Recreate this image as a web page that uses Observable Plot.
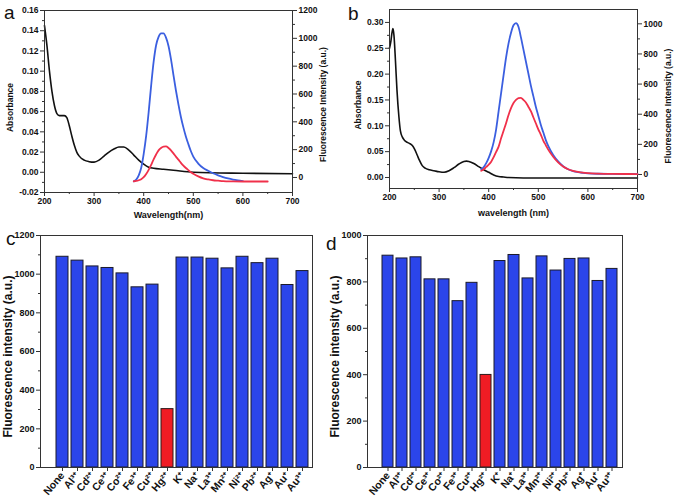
<!DOCTYPE html>
<html><head><meta charset="utf-8">
<script src="https://cdn.jsdelivr.net/npm/d3@7"></script>
<script src="https://cdn.jsdelivr.net/npm/@observablehq/plot@0.6"></script>
<style>
body{margin:0;background:#fff}
#root{position:relative;width:676px;height:503px;overflow:hidden;background:#fff;font-family:'Liberation Sans',Arial,sans-serif}
.panel{position:absolute}
.letter{position:absolute;font-size:19px;line-height:1;color:#111;font-family:'Liberation Sans',Arial,sans-serif}
</style></head><body><div id="root"></div>
<script>
// ---------- Panel a data ----------
const waveAbsA = [200,205,210,215,220,225,230,240,245,250,255,260,265,270,280,290,300,310,320,330,340,350,360,370,380,390,400,410,420,440,460,500,600,700];
const absA = [0.145,0.125,0.100,0.080,0.066,0.058,0.056,0.056,0.054,0.046,0.036,0.027,0.020,0.016,0.012,0.0105,0.010,0.012,0.016,0.020,0.023,0.025,0.025,0.022,0.017,0.012,0.008,0.005,0.004,0.003,0.002,0.000,-0.001,-0.0015];
const waveBlueA = [380,385,390,395,400,405,410,415,420,425,430,435,440,445,450,455,460,465,470,475,480,485,490,495,500,510,520,530,540,550,560,570,580,590,600];
const blueA = [-28,-15,15,70,170,300,470,660,830,950,1010,1035,1035,1005,945,850,735,625,525,435,360,295,240,190,150,100,68,48,30,15,3,-7,-15,-21,-26];
const waveRedA = [380,385,390,395,400,405,410,415,420,425,430,435,440,445,450,455,460,465,470,475,480,485,490,495,500,510,520,530,540,550,560,580,600,620,650];
const redA = [-27,-25,-20,-12,2,25,55,90,130,165,195,212,222,223,212,195,173,150,128,105,85,68,53,38,27,8,-6,-14,-20,-23,-26,-28,-29,-29,-29];
const absTicksA = [-0.02,0,0.02,0.04,0.06,0.08,0.10,0.12,0.14,0.16];
const absMinorA = [-0.01,0.01,0.03,0.05,0.07,0.09,0.11,0.13,0.15];
const flTicksA = [0,200,400,600,800,1000,1200];
const flMinorA = [100,300,500,700,900,1100];

// ---------- Panel b data ----------
const waveAbsB = [200,203,205,207,209,212,215,219,222,226,230,236,240,246,250,256,260,266,272,280,290,300,310,320,330,340,350,355,360,370,380,390,400,410,420,430,440,500,600,700];
const absB = [0.25,0.265,0.28,0.288,0.275,0.226,0.17,0.117,0.09,0.078,0.072,0.068,0.066,0.062,0.056,0.043,0.034,0.023,0.018,0.015,0.013,0.011,0.010,0.013,0.019,0.026,0.031,0.0316,0.031,0.027,0.021,0.015,0.010,0.005,0.002,0.001,0.000,-0.001,-0.001,-0.001];
const waveFlB = [385,390,395,400,405,410,415,420,425,430,435,440,445,450,455,460,465,470,475,480,485,490,495,500,505,510,515,520,530,540,550,560,570,580,590,600,620,650,700];
const blueB = [35,50,75,110,155,215,300,420,540,660,775,870,940,990,1004,980,910,830,750,670,590,520,450,390,330,280,230,190,130,87,55,35,22,15,11,8,5,4,3];
const redB = [25,35,50,65,85,115,150,185,240,290,340,395,440,475,495,507,509,495,478,450,420,380,340,300,265,225,195,165,118,80,53,35,24,17,12,9,6,4,3];
const absTicksB = [0,0.05,0.10,0.15,0.20,0.25,0.30];
const absMinorB = [0.025,0.075,0.125,0.175,0.225,0.275];
const flTicksB = [0,200,400,600,800,1000];
const flMinorB = [100,300,500,700,900];

const waveTicks = [200,300,400,500,600,700];
const waveMinor = [250,350,450,550,650];

// ---------- Panels c, d data ----------
const ions = ["None","Al³⁺","Cd²⁺","Ce³⁺","Co²⁺","Fe³⁺","Cu²⁺","Hg²⁺","K⁺","Na⁺","La³⁺","Mn²⁺","Ni²⁺","Pb²⁺","Ag⁺","Au⁺","Au³⁺"];
const valsC = [1090,1070,1040,1032,1004,932,946,302,1086,1086,1080,1030,1090,1057,1080,944,1016];
const valsD = [913,901,906,811,811,717,796,399,890,916,815,910,849,899,901,804,856];
const ticksC = [0,200,400,600,800,1000,1200];
const minorC = [100,300,500,700,900,1100];
const ticksD = [0,200,400,600,800,1000];
const minorD = [100,300,500,700,900];
const targetIon = "Hg²⁺";

// ---------- styling ----------
const FONT = "'Liberation Sans', Arial, sans-serif";
const INK = "#111";
const AXIS = "#333";
const BLUE_LINE = "#3b5fe0";
const RED_LINE = "#f0304a";
const BLUE_BAR = "#2b45ea";
const RED_BAR = "#f01c24";
const style = {fontFamily: FONT, fontSize: "8.5px", fontWeight: "bold", background: "none", overflow: "visible", color: INK};
const barStyle = {...style, fontSize: "10.5px"};

const root = document.getElementById("root");
function place(node, left, top) {
  const d = document.createElement("div");
  d.className = "panel";
  d.style.left = left + "px";
  d.style.top = top + "px";
  d.appendChild(node);
  root.appendChild(d);
}
function letter(t, left, top) {
  const d = document.createElement("div");
  d.className = "letter";
  d.style.left = left + "px";
  d.style.top = top + "px";
  d.textContent = t;
  root.appendChild(d);
}
const pts = (xs, ys) => xs.map((x, i) => ({x, y: ys[i]}));
const fmt2 = d => d3.format(".2f")(d).replace("−", "-");
const fmtInt = d => String(d);
const blank = () => "";

// ---------- Panel a ----------
{
  const W = 338, H = 225, m = {marginLeft: 44, marginRight: 46, marginTop: 10, marginBottom: 33};
  const a1 = Plot.plot({
    width: W, height: H, ...m, style,
    x: {domain: [200, 700]},
    y: {domain: [-0.02, 0.16]},
    marks: [
      Plot.axisX({ticks: waveTicks, tickSize: 4, tickPadding: 1, tickFormat: fmtInt, label: null, stroke: AXIS}),
      Plot.axisX({ticks: waveMinor, tickSize: 2, tickFormat: blank, label: null, stroke: AXIS}),
      Plot.axisY({ticks: absTicksA, tickSize: 4, tickPadding: 2, tickFormat: fmt2, label: null, stroke: AXIS}),
      Plot.axisY({ticks: absMinorA, tickSize: 2, tickFormat: blank, label: null, stroke: AXIS}),
      Plot.line(pts(waveAbsA, absA), {x: "x", y: "y", stroke: INK, strokeWidth: 1.6, curve: "monotone-x"}),
      Plot.frame({stroke: AXIS}),
      Plot.text(["Absorbance"], {frameAnchor: "left", textAnchor: "middle", lineAnchor: "middle", rotate: -90, dx: -34, dy: 6, text: d => d, fontSize: 8.5}),
      Plot.text(["Wavelength(nm)"], {frameAnchor: "bottom", textAnchor: "middle", lineAnchor: "middle", dy: 23, text: d => d, fontSize: 9})
    ]
  });
  const a2 = Plot.plot({
    width: W, height: H, ...m, style,
    x: {domain: [200, 700], axis: null},
    y: {domain: [-108, 1200]},
    marks: [
      Plot.axisY({anchor: "right", ticks: flTicksA, tickSize: 4, tickPadding: 2, tickFormat: fmtInt, label: null, stroke: AXIS}),
      Plot.axisY({anchor: "right", ticks: flMinorA, tickSize: 2, tickFormat: blank, label: null, stroke: AXIS}),
      Plot.line(pts(waveBlueA, blueA), {x: "x", y: "y", stroke: BLUE_LINE, strokeWidth: 1.8, curve: "monotone-x"}),
      Plot.line(pts(waveRedA, redA), {x: "x", y: "y", stroke: RED_LINE, strokeWidth: 1.8, curve: "monotone-x"}),
      Plot.text(["Fluorescence Intensity (a.u.)"], {frameAnchor: "right", textAnchor: "middle", lineAnchor: "middle", rotate: -90, dx: 31, dy: 3, text: d => d, fontSize: 8.5})
    ]
  });
  place(a1, 0, 0);
  place(a2, 0, 0);
}

// ---------- Panel b ----------
{
  const W = 338, H = 225, m = {marginLeft: 51, marginRight: 39, marginTop: 9, marginBottom: 37};
  const b1 = Plot.plot({
    width: W, height: H, ...m, style,
    x: {domain: [200, 700]},
    y: {domain: [-0.0213, 0.325]},
    marks: [
      Plot.axisX({ticks: waveTicks, tickSize: 4, tickPadding: 1, tickFormat: fmtInt, label: null, stroke: AXIS}),
      Plot.axisX({ticks: waveMinor, tickSize: 2, tickFormat: blank, label: null, stroke: AXIS}),
      Plot.axisY({ticks: absTicksB, tickSize: 4, tickPadding: 2, tickFormat: fmt2, label: null, stroke: AXIS}),
      Plot.axisY({ticks: absMinorB, tickSize: 2, tickFormat: blank, label: null, stroke: AXIS}),
      Plot.line(pts(waveAbsB, absB), {x: "x", y: "y", stroke: INK, strokeWidth: 1.6, curve: "monotone-x"}),
      Plot.frame({stroke: AXIS}),
      Plot.text(["Absorbance"], {frameAnchor: "left", textAnchor: "middle", lineAnchor: "middle", rotate: -90, dx: -31, dy: 6, text: d => d, fontSize: 8.5}),
      Plot.text(["wavelength (nm)"], {frameAnchor: "bottom", textAnchor: "middle", lineAnchor: "middle", dy: 25, text: d => d, fontSize: 9})
    ]
  });
  const b2 = Plot.plot({
    width: W, height: H, ...m, style,
    x: {domain: [200, 700], axis: null},
    y: {domain: [-93, 1095]},
    marks: [
      Plot.axisY({anchor: "right", ticks: flTicksB, tickSize: 4, tickPadding: 2, tickFormat: fmtInt, label: null, stroke: AXIS}),
      Plot.axisY({anchor: "right", ticks: flMinorB, tickSize: 2, tickFormat: blank, label: null, stroke: AXIS}),
      Plot.line(pts(waveFlB, blueB), {x: "x", y: "y", stroke: BLUE_LINE, strokeWidth: 1.8, curve: "monotone-x"}),
      Plot.line(pts(waveFlB, redB), {x: "x", y: "y", stroke: RED_LINE, strokeWidth: 1.8, curve: "monotone-x"}),
      Plot.text(["Fluorescence Intensity (a.u.)"], {frameAnchor: "right", textAnchor: "middle", lineAnchor: "middle", rotate: -90, dx: 31, dy: 7, text: d => d, fontSize: 8.5})
    ]
  });
  place(b1, 338, 0);
  place(b2, 338, 0);
}

// ---------- Bar panels ----------
function barPanel(vals, yMax, ticks, minor, W, ml, mr, align) {
  const data = ions.map((ion, i) => ({ion, v: vals[i]}));
  return Plot.plot({
    width: W, height: 283, marginLeft: ml, marginRight: mr, marginTop: 15, marginBottom: 36, style: barStyle,
    x: {domain: ions, paddingInner: 0.22, paddingOuter: 0.167, align},
    y: {domain: [0, yMax]},
    marks: [
      Plot.barY(data.filter(d => d.ion !== targetIon), {x: "ion", y: "v", fill: BLUE_BAR, stroke: "#1a1a2a", strokeWidth: 1}),
      Plot.barY(data.filter(d => d.ion === targetIon), {x: "ion", y: "v", fill: RED_BAR, stroke: "#2a1a1a", strokeWidth: 1}),
      Plot.axisX({tickRotate: -50, tickSize: 4, tickPadding: 2, fontSize: 10.5, label: null, stroke: AXIS}),
      Plot.axisY({ticks, tickSize: 4, tickPadding: 2, tickFormat: fmtInt, fontSize: 9, label: null, stroke: AXIS}),
      Plot.axisY({ticks: minor, tickSize: 2, tickFormat: blank, label: null, stroke: AXIS}),
      Plot.frame({stroke: AXIS}),
      Plot.text(["Fluorescence intensity (a.u.)"], {frameAnchor: "left", textAnchor: "middle", lineAnchor: "middle", rotate: -90, dx: -32, dy: 5, text: d => d, fontSize: 12})
    ]
  });
}
place(barPanel(valsC, 1200, ticksC, minorC, 338, 40, 26, 0.8), 0, 220);
place(barPanel(valsD, 1000, ticksD, minorD, 340, 47, 38, 0.75), 320, 220);

letter("a", 4, 3);
letter("b", 348, 4);
letter("c", 6, 229);
letter("d", 326, 234);
</script>
</body></html>
